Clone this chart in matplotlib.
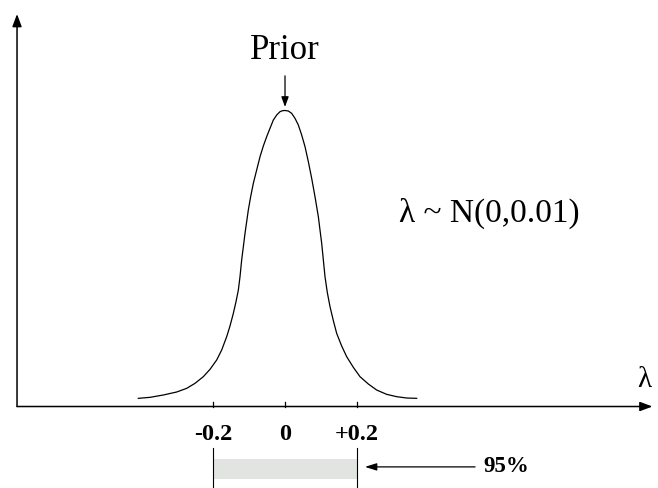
import matplotlib
matplotlib.use("Agg")
import matplotlib.pyplot as plt

plt.rcParams['font.family'] = ['Liberation Serif', 'DejaVu Serif']

# prior curve (lambda, relative height)
lam = [-0.4074, -0.375, -0.338, -0.3009, -0.2731, -0.25, -0.2269, -0.2083,
       -0.1898, -0.1759, -0.162, -0.1528, -0.1435, -0.1361, -0.1296, -0.125,
       -0.1204, -0.1157, -0.1111, -0.1065, -0.1019, -0.0954, -0.088, -0.0787,
       -0.0694, -0.0602, -0.0509, -0.0417, -0.0324, -0.0231, -0.0139, -0.0065,
       0.0,
       0.0093, 0.0185, 0.0278, 0.037, 0.0463, 0.0556, 0.0648, 0.0741, 0.0833,
       0.0926, 0.0972, 0.1019, 0.1065, 0.1111, 0.1176, 0.125, 0.1343, 0.1435,
       0.1574, 0.1713, 0.1898, 0.2083, 0.2315, 0.2546, 0.2824, 0.3102, 0.338,
       0.3657]
dens = [0.0276, 0.031, 0.0389, 0.049, 0.0614, 0.0783, 0.1008, 0.1256,
        0.1571, 0.1909, 0.2359, 0.272, 0.3148, 0.3542, 0.3936, 0.4386,
        0.4949, 0.54, 0.585, 0.6244, 0.6639, 0.7089, 0.7539, 0.799,
        0.844, 0.8801, 0.9116, 0.9398, 0.9679, 0.9848, 0.996, 0.9995,
        1.0,
        0.9983, 0.9904, 0.9735, 0.951, 0.9172, 0.8778, 0.8271, 0.7708, 0.7089,
        0.6413, 0.5963, 0.5512, 0.4949, 0.4386, 0.3846, 0.3373, 0.29, 0.2472,
        0.2044, 0.1684, 0.1323, 0.1008, 0.076, 0.0557, 0.0411, 0.0332, 0.0287,
        0.0276]

tick_pos = [-0.2, 0.0, 0.2]
tick_lab = ['-0.2', '0', '+0.2']
interval = [-0.2, 0.2]
coverage = '95%'
prior_txt = 'Prior'
dist_txt = '\u03bb ~ N(0,0.01)'

fig = plt.figure(figsize=(6.58, 4.88), dpi=100)
ax = fig.add_axes([0, 0, 1, 1])
ax.set_xlim(-0.7917, 1.0361)
ax.set_ylim(-0.2753, 1.3733)
ax.axis('off')

k = dict(arrowstyle='-|>,head_length=0.75,head_width=0.28', color='black',
         lw=1.1, shrinkA=0, shrinkB=0)
x0 = -0.7444
# axes with arrow heads
ax.annotate('', xy=(x0, 1.326), xytext=(x0, 0), arrowprops=k)
ax.annotate('', xy=(1.0208, 0), xytext=(x0, 0), arrowprops=k)

ax.plot(lam, dens, color='black', lw=0.9, solid_joinstyle='round')

for p, s in zip(tick_pos, tick_lab):
    ax.plot([p, p], [0, 0.0152], color='black', lw=0.9)
    ax.text(p, -0.093, s, ha='center', va='center', fontsize=17.5, fontweight='bold')

ax.text(0.997, 0.066, '\u03bb', ha='center', va='baseline', fontsize=21)

ax.text(0, 1.174, prior_txt, ha='center', va='baseline', fontsize=25)
ax.annotate('', xy=(0, 1.012), xytext=(0, 1.117),
            arrowprops=dict(arrowstyle='-|>,head_length=0.6,head_width=0.22',
                            color='black', lw=0.9, shrinkA=0, shrinkB=0))

ax.text(0.567, 0.623, dist_txt, ha='center', va='baseline', fontsize=24)

# 95% interval bar
ax.fill_between(interval, -0.245, -0.177, color='#e1e4e1', lw=0)
for p in interval:
    ax.plot([p, p], [-0.140, -0.2753], color='black', lw=0.8)
ax.annotate('', xy=(0.222, -0.204), xytext=(0.528, -0.204),
            arrowprops=dict(arrowstyle='-|>,head_length=0.7,head_width=0.22',
                            color='black', lw=0.9, shrinkA=0, shrinkB=0))
ax.text(0.55, -0.201, coverage, ha='left', va='center', fontsize=16.5, fontweight='bold')

fig.savefig('out.png', dpi=100)
